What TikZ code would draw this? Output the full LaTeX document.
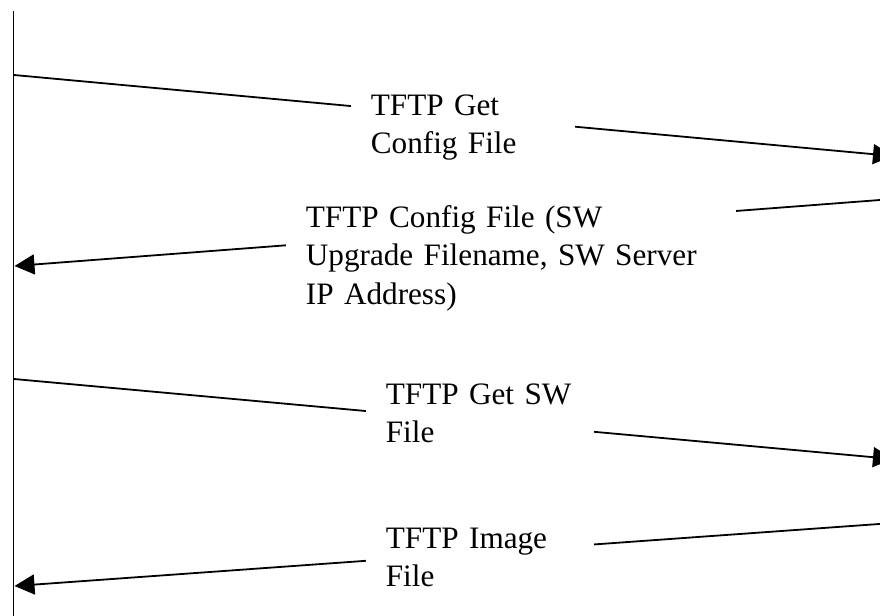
\documentclass[tikz,border=0pt]{standalone}
\usepackage{fontspec}
\setmainfont{Liberation Serif}
\usetikzlibrary{arrows.meta}

\begin{document}
\begin{tikzpicture}[x=0.5pt,y=-0.5pt,line width=0.9pt,
  msg/.style={-{Triangle[length=10pt,width=10pt]}},
  msg box/.style={fill=white,anchor=base west,inner xsep=10pt,inner ysep=4pt,
    align=left,font=\fontsize{15.6}{19.25}\selectfont}]
  \useasboundingbox (0,0) rectangle (880,616);

  % modem time line
  \coordinate (top) at (13.5,11);
  \coordinate (bottom) at (13.5,616);
  \draw (top) -- (bottom);

  % ends on the modem side (l) and the server side (r)
  \coordinate (l1) at (14,75);
  \coordinate (r1) at (893,156);
  \coordinate (r2) at (893,199);
  \coordinate (l2) at (14.5,266);
  \coordinate (l3) at (14,379);
  \coordinate (r3) at (893,459);
  \coordinate (r4) at (893,523);
  \coordinate (l4) at (14.5,586);

  \draw[msg] (l1) -- (r1);
  \draw[msg] (r2) -- (l2);
  \draw[msg] (l3) -- (r3);
  \draw[msg] (r4) -- (l4);

  \node[msg box,text width=92pt] (getcfg) at (350,115) {TFTP Get\\Config File};
  \node[msg box,text width=205pt] (cfgfile) at (285,227)
    {TFTP Config File (SW\\Upgrade Filename, SW Server\\IP Address)};
  \node[msg box,text width=94pt] (getsw) at (365,404) {TFTP Get SW\\File};
  \node[msg box,text width=94pt] (image) at (365,548) {TFTP Image\\File};

\end{tikzpicture}
\end{document}
